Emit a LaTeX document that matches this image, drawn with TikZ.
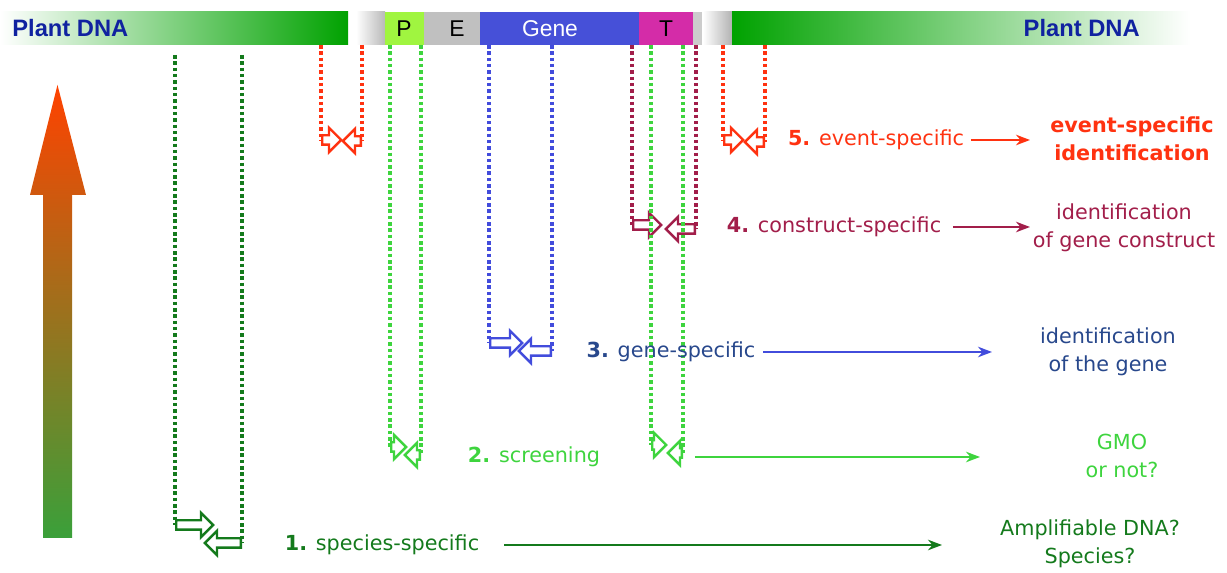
\documentclass[tikz,border=0pt]{standalone}
\usepackage{fontspec}
\setmainfont{DejaVu Sans}
\newfontfamily\dnafont{Liberation Sans}
\usetikzlibrary{shapes.arrows,arrows.meta,positioning}
\definecolor{dnagreen}{RGB}{0,162,0}
\definecolor{dnablue}{RGB}{16,34,160}
\definecolor{promgreen}{RGB}{160,245,64}
\definecolor{enhgray}{RGB}{192,192,192}
\definecolor{geneblue}{RGB}{70,80,216}
\definecolor{termpink}{RGB}{212,44,168}
\definecolor{specgreen}{RGB}{20,122,28}
\definecolor{screengreen}{RGB}{62,212,62}
\definecolor{genedot}{RGB}{66,76,220}
\definecolor{genetext}{RGB}{40,72,140}
\definecolor{constred}{RGB}{162,30,74}
\definecolor{eventred}{RGB}{255,50,16}
\definecolor{trendred}{RGB}{255,66,0}
\definecolor{trendgreen}{RGB}{58,160,58}
\tikzset{
	guide/.style={draw=#1, line width=2.1pt, dash pattern=on 2pt off 1.6pt},
	probe/.style 2 args={single arrow, draw=#1, fill=white, line width=1.4pt,
		minimum height=#2*0.02cm, minimum width=0pt, single arrow head extend=0.15cm,
		inner xsep=0pt, inner ysep=0.07cm, anchor=tail},
	probeleft/.style 2 args={probe={#1}{#2}, shape border rotate=180},
	lab/.style={font=\fontsize{11.8}{16}\selectfont, inner sep=2pt},
	goal/.style={lab, align=center},
	flow/.style={draw=#1, line width=1.1pt, -{Stealth[length=8pt,width=6pt]}},
	segtxt/.style={font=\dnafont\fontsize{13}{13}\selectfont, inner sep=0pt},
	dnatxt/.style={font=\dnafont\bfseries\fontsize{13.5}{14}\selectfont, text=dnablue, inner sep=0pt},
}
\begin{document}
\begin{tikzpicture}[x=0.02cm,y=-0.02cm]
	\useasboundingbox (0,0) rectangle (1227,573);
	\shade[bottom color=trendgreen, top color=trendred] (43,538) -- (43,195) -- (30,195) -- (57.5,85) -- (86,195) -- (72,195) -- (72,538) -- cycle;
	% DNA bar
	\shade[left color=white, middle color=dnagreen!30, right color=dnagreen] (0,12) rectangle (348,45);
	\shade[left color=white, right color=gray!55] (356,12) rectangle (385,45);
	\fill[promgreen] (385,12) rectangle (424,45);
	\fill[enhgray] (424,12) rectangle (480,45);
	\fill[geneblue] (480,12) rectangle (639,45);
	\fill[termpink] (639,12) rectangle (693,45);
	\fill[gray!40] (693,12) rectangle (702,45);
	\shade[left color=white, right color=gray!60] (703,12) rectangle (732,45);
	\shade[left color=dnagreen, middle color=dnagreen!30, right color=white] (732,12) rectangle (1190,45);
	\node[dnatxt, anchor=west] (dnaL) at (12,28) {Plant DNA};
	\node[dnatxt, anchor=east] (dnaR) at (1140,28) {Plant DNA};
	\node[segtxt] (P) at (404,29) {P};
	\node[segtxt] (E) at (457,29) {E};
	\node[segtxt, text=white] (G) at (550,29) {Gene};
	\node[segtxt] (T) at (666,29) {T};
	\coordinate (spAtop) at (175,55);
	\coordinate (spBtop) at (242,55);
	\coordinate (evAtop) at (321,45);
	\coordinate (evBtop) at (362,45);
	\coordinate (scAtop) at (390,45);
	\coordinate (scBtop) at (421,45);
	\coordinate (geAtop) at (489,45);
	\coordinate (geBtop) at (552,45);
	\coordinate (coAtop) at (632,45);
	\coordinate (coBtop) at (696,45);
	\coordinate (tcAtop) at (651,45);
	\coordinate (tcBtop) at (683,45);
	\coordinate (erAtop) at (723,45);
	\coordinate (erBtop) at (765,45);
	\node[probe={specgreen}{37}] (spA) at (175,525) {};
	\node[probeleft={specgreen}{36}] (spB) at (242,543) {};
	\node[probe={eventred}{19}] (evA) at (321,140) {};
	\node[probeleft={eventred}{18}] (evB) at (362,141) {};
	\node[probe={screengreen}{15}] (scA) at (390,447) {};
	\node[probeleft={screengreen}{15}] (scB) at (421,455) {};
	\node[probe={genedot}{32}] (geA) at (489,343) {};
	\node[probeleft={genedot}{32}] (geB) at (552,351) {};
	\node[probe={constred}{28}] (coA) at (632,225) {};
	\node[probeleft={constred}{29}] (coB) at (696,229) {};
	\node[probe={screengreen}{14}] (tcA) at (651,445) {};
	\node[probeleft={screengreen}{14}] (tcB) at (683,453) {};
	\node[probe={eventred}{19}] (erA) at (723,140) {};
	\node[probeleft={eventred}{19}] (erB) at (765,142) {};
	\draw[guide=specgreen] (spAtop) -- (spA.tail);
	\draw[guide=specgreen] (spBtop) -- (spB.tail);
	\draw[guide=eventred] (evAtop) -- (evA.tail);
	\draw[guide=eventred] (evBtop) -- (evB.tail);
	\draw[guide=screengreen] (scAtop) -- (scA.tail);
	\draw[guide=screengreen] (scBtop) -- (scB.tail);
	\draw[guide=genedot] (geAtop) -- (geA.tail);
	\draw[guide=genedot] (geBtop) -- (geB.tail);
	\draw[guide=constred] (coAtop) -- (coA.tail);
	\draw[guide=constred] (coBtop) -- (coB.tail);
	\draw[guide=screengreen] (tcAtop) -- (tcA.tail);
	\draw[guide=screengreen] (tcBtop) -- (tcB.tail);
	\draw[guide=eventred] (erAtop) -- (erA.tail);
	\draw[guide=eventred] (erBtop) -- (erB.tail);
	\node[lab, text=eventred] (evL) at (876,140) {\textbf{5.} event-specific};
	\node[lab, text=constred] (coL) at (834,227) {\textbf{4.} construct-specific};
	\node[lab, text=genetext] (geL) at (671,352) {\textbf{3.} gene-specific};
	\node[lab, text=screengreen] (scL) at (534,457) {\textbf{2.} screening};
	\node[lab, text=specgreen] (spL) at (382,545) {\textbf{1.} species-specific};
	\node[goal, text=eventred, font=\bfseries\fontsize{11.8}{16}\selectfont] (evG) at (1132,139) {event-specific\\identification};
	\node[goal, text=constred] (coG) at (1124,228) {identification\\of gene construct};
	\node[goal, text=genetext] (geG) at (1108,352) {identification\\of the gene};
	\node[goal, text=screengreen] (scG) at (1122,456) {GMO\\or not?};
	\node[goal, text=specgreen] (spG) at (1090,544) {Amplifiable DNA?\\Species?};
	\coordinate (evEnd) at (1030,140);
	\coordinate (coEnd) at (1030,227);
	\coordinate (geEnd) at (992,352);
	\coordinate (scEnd) at (980,457);
	\coordinate (spEnd) at (942,545);
	\draw[flow=eventred] ([xshift=0.06cm]evL.east) -- (evEnd);
	\draw[flow=constred] ([xshift=0.16cm]coL.east) -- (coEnd);
	\draw[flow=genedot] ([xshift=0.08cm]geL.east) -- (geEnd);
	\draw[flow=screengreen] ([xshift=1.82cm]scL.east) -- (scEnd);
	\draw[flow=specgreen] ([xshift=0.42cm]spL.east) -- (spEnd);
\end{tikzpicture}
\end{document}
